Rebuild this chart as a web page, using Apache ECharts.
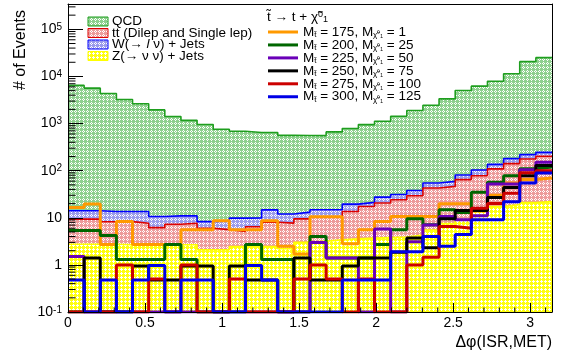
<!DOCTYPE html>
<html><head><meta charset="utf-8">
<script src="https://cdn.jsdelivr.net/npm/echarts@6/dist/echarts.min.js"></script>
<style>html,body{margin:0;padding:0;background:#fff}#c{width:569px;height:358px}</style>
</head><body><div id="c"></div>
<script>
// ---------------- data ----------------
const NBINS = 30;
const XMAX = Math.PI;
const xTickLabels = ['0', '0.5', '1', '1.5', '2', '2.5', '3'];

// background components (stacked, bottom -> top: Z, tt, W, QCD)
const zJets = [2.75, 2.75, 2.75, 2.67, 2.67, 2.67, 2.67, 2.67, 2.1, 2.1, 2.45, 2.45, 2.45, 2.2, 3.0, 3.2, 3.4, 3.6, 3.7, 3.8, 3.9, 4.3, 5.5, 7.5, 9.0, 13.6, 17.4, 19.0, 21.0, 22.0];
const ttbar = [6.6, 6.6, 5.5, 5.6, 5.0, 3.5, 4.6, 5.0, 3.9, 3.5, 2.7, 4.0, 5.6, 5.5, 6.5, 7.3, 6.9, 10.0, 13.7, 16.8, 20.3, 25.1, 37.3, 38.9, 55.4, 64.4, 91.6, 122, 156, 180];
const wJets = [4.7, 4.7, 5.3, 5.3, 5.9, 4.5, 3.7, 3.3, 2.3, 3.1, 4.7, 3.5, 6.7, 4.3, 3.7, 4.3, 4.5, 5.9, 3.8, 6.9, 7.1, 8.6, 11.9, 12.9, 16.6, 25, 27, 39, 42, 43];
const qcd = [6440, 5630, 4340, 3230, 2610, 1940, 1400, 1160, 945, 750, 675, 635, 630, 550, 545, 540, 650, 765, 930, 1090, 1400, 1850, 2400, 3290, 4960, 6120, 7800, 11200, 20400, 24800];

// signals
const sig175_1 = [16.6, 19.5, 2.7, 8.3, 2.7, 2.7, 2.7, 5.6, 5.6, 8.6, 5.6, 5.6, 8.6, 2.5, 1.7, 10.5, 10.5, 2.8, 5.6, 8.3, 10.7, 10.7, 10.7, 19.9, 19.9, 14, 30, 55, 65, 70];
const sig200_25 = [5.4, 5.4, 4.2, 1.3, 1.3, 1.3, 2.7, 1.3, 0, 0, 0, 2.7, 1.3, 1.3, 0, 4.0, 1.4, 1.4, 1.4, 2.7, 5.6, 9.5, 7.1, 14.8, 13, 35, 57, 78, 110, 120];
const sig225_50 = [1.5, 0, 0, 0, 0, 0, 0, 0, 0, 0, 0, 0, 0, 0, 0, 3.0, 1.4, 1.4, 0, 5.8, 0, 3.1, 7.0, 10.7, 9.1, 11, 52, 52, 105, 150];
const sig250_75 = [0, 1.4, 0, 0, 0.95, 0.48, 0.48, 0.95, 0.95, 0, 0.95, 0.48, 0.48, 0, 1.4, 0.48, 0.48, 0.95, 1.4, 1.4, 1.85, 3.7, 2.3, 9.5, 14.3, 14.3, 27, 44, 78, 128];
const sig275_100 = [0, 0, 0, 1.0, 0, 0.5, 0, 1.0, 0, 0, 0.5, 0, 0, 0, 0.5, 1.0, 0.5, 0, 0.5, 0, 0, 1.0, 1.46, 6.5, 6.0, 16, 20, 33, 90, 100];
const sig300_125 = [0.48, 0, 0.48, 0, 0.48, 0.97, 0, 0.48, 0.48, 0, 0, 0.97, 0.48, 0, 0, 0, 0, 0.48, 0.48, 0.48, 1.9, 1.9, 4.0, 2.5, 4.4, 9.1, 9.1, 22, 55, 89];

const stackNames = ['QCD', 'tt (Dilep and Single lep)', 'W(→ {i|l} ν) + Jets', 'Z(→ ν ν) + Jets'];
const sigStop = [175, 200, 225, 250, 275, 300];
const sigLsp = [1, 25, 50, 75, 100, 125];

// ---------------- styling ----------------
const YMIN = 0.1, YMAX = 3.45e5;
const FONT = '"Liberation Sans", Arial, Helvetica, sans-serif';

function pattern(color, kind) {
  const c = document.createElement('canvas'); c.width = 4; c.height = 4;
  const g = c.getContext('2d');
  g.fillStyle = color; g.fillRect(0, 0, 4, 4);
  g.fillStyle = '#ffffff';
  const pts = kind === 'cross' ? [[1,0],[0,1],[1,1],[2,1],[1,2]] : [[3,0],[3,2],[0,3],[2,3]];
  pts.forEach(([x, y]) => g.fillRect(x, y, 1, 1));
  return { image: c, repeat: 'repeat' };
}
const fillQCD = pattern('#8ed08e', 'dots');
const fillTT = pattern('#ed9b9b', 'dots');
const fillW = pattern('#9b9beb', 'dots');
const fillZ = pattern('#ffff10', 'cross');
const lineQCD = '#1e9e1e', lineTT = '#dd0000', lineW = '#0000ff', lineZ = '#ffff00';
const sigColors = ['#ff9900', '#006600', '#6a00b8', '#000000', '#cc0000', '#0000e6'];

// ---------------- build ----------------
const edges = [];
for (let i = 0; i <= NBINS; i++) edges.push(i * XMAX / NBINS);
function stepData(vals) {
  return edges.map((e, i) => [e, Math.max(vals[Math.min(i, NBINS - 1)], YMIN)]);
}
const cZ = zJets.slice();
const cTT = cZ.map((v, i) => v + ttbar[i]);
const cW = cTT.map((v, i) => v + wJets[i]);
const cQ = cW.map((v, i) => v + qcd[i]);

function areaSeries(vals, fill, line, z) {
  return { type: 'line', data: stepData(vals), step: 'end', symbol: 'none', silent: true, z: z,
    lineStyle: { color: line, width: 1.6 }, areaStyle: { color: fill, opacity: 1, origin: 'start' } };
}
const series = [
  areaSeries(cQ, fillQCD, lineQCD, 2),
  areaSeries(cW, fillW, lineW, 3),
  areaSeries(cTT, fillTT, lineTT, 4),
  areaSeries(cZ, fillZ, lineZ, 5),
];
[sig175_1, sig200_25, sig225_50, sig250_75, sig275_100, sig300_125].forEach((s, k) => {
  series.push({ type: 'line', data: stepData(s), step: 'end', symbol: 'none', silent: true, z: 6 + k,
    lineStyle: { color: sigColors[k], width: 3 } });
});

// minor ticks (log y: 2..9 x 10^k ; x: every 0.1)
const yMinor = [];
for (let k = -1; k <= 5; k++) for (let m = 2; m <= 9; m++) { const v = m * Math.pow(10, k); if (v < YMAX) yMinor.push([0, v]); }
const xMinor = [];
for (let i = 1; i <= 31; i++) { if (i % 5 !== 0) xMinor.push([i / 10, YMIN]); }
series.push({ type: 'custom', data: yMinor, z: 20, silent: true,
  renderItem: (p, api) => { const c = api.coord([0, api.value(1)]);
    return { type: 'line', shape: { x1: c[0], y1: c[1], x2: c[0] + 7.5, y2: c[1] }, style: { stroke: '#000', lineWidth: 1 } }; } });
series.push({ type: 'custom', data: xMinor, z: 20, silent: true,
  renderItem: (p, api) => { const c = api.coord([api.value(0), YMIN]);
    return { type: 'line', shape: { x1: c[0], y1: c[1], x2: c[0], y2: c[1] - 4.5 }, style: { stroke: '#000', lineWidth: 1 } }; } });

// legends
const graphic = [];
const boxFills = [fillQCD, fillTT, fillW, fillZ];
const boxLines = [lineQCD, lineTT, lineW, lineZ];
stackNames.forEach((n, i) => {
  const y = 21.5 + 11.5 * i;
  graphic.push({ type: 'rect', shape: { x: 88, y: y - 4.5, width: 20, height: 9 }, style: { fill: boxFills[i], stroke: boxLines[i], lineWidth: 1 }, z: 50 });
  graphic.push({ type: 'text', x: 112, y: y, z: 50, style: { text: n, font: '13.5px ' + FONT, fill: '#000', textVerticalAlign: 'middle',
    rich: { i: { fontStyle: 'italic', fontSize: 13.5, fontFamily: FONT } } } });
});
graphic.push({ type: 'text', x: 267, y: 17, z: 50, style: {
  text: '{n|t\u0303 \u2192 t + \u03C7\u0303}{sup|0}{sub|1}', textVerticalAlign: 'middle', fill: '#000',
  rich: { n: { fontSize: 13.5, fontFamily: FONT }, sup: { fontSize: 9, fontFamily: FONT, verticalAlign: 'top', lineHeight: 10, padding: [0, 0, 8, 0] },
    sub: { fontSize: 9, fontFamily: FONT, verticalAlign: 'bottom', lineHeight: 10, padding: [8, 0, 0, 0] } } } });
sigStop.forEach((m, i) => {
  const y = 32 + 12.95 * i;
  graphic.push({ type: 'line', shape: { x1: 268, y1: y, x2: 298, y2: y }, style: { stroke: sigColors[i], lineWidth: 3 }, z: 50 });
  graphic.push({ type: 'text', x: 303, y: y, z: 50, style: {
    text: '{n|M}{s|t\u0303}{n| = ' + m + ', M}{s|\u03C7\u0303\u2070\u2081}{n| = ' + sigLsp[i] + '}', textVerticalAlign: 'middle', fill: '#000',
    rich: { n: { fontSize: 13.5, fontFamily: FONT }, s: { fontSize: 8, fontFamily: FONT, verticalAlign: 'bottom', lineHeight: 8, padding: [9, 0, 0, 0] } } } });
});
graphic.push({ type: 'text', x: 20.5, y: 50, rotation: Math.PI / 2, z: 50, style: { text: '# of Events', font: '16px ' + FONT, fill: '#000', textAlign: 'center', textVerticalAlign: 'middle' } });
graphic.push({ type: 'text', x: 552, y: 343, z: 50, style: { text: '\u0394\u03C6(ISR,MET)', font: '16px ' + FONT, fill: '#000', textAlign: 'right', textVerticalAlign: 'middle' } });

const chart = echarts.init(document.getElementById('c'), null, { renderer: 'canvas' });
chart.setOption({
  animation: false,
  backgroundColor: '#fff',
  grid: { left: 68, right: 17, top: 4, bottom: 46, show: false },
  xAxis: [{
    type: 'value', min: 0, max: XMAX, interval: 0.5, z: 30,
    axisLine: { show: true, lineStyle: { color: '#000', width: 1 } },
    axisTick: { show: true, inside: true, length: 9, lineStyle: { color: '#000' } },
    splitLine: { show: false },
    axisLabel: { showMaxLabel: false, color: '#000', fontSize: 14, fontFamily: FONT, margin: 4,
      formatter: v => { const k = Math.round(v / 0.5); return (Math.abs(v - k * 0.5) < 1e-9 && k < xTickLabels.length) ? xTickLabels[k] : ''; } }
  }, {
    type: 'value', position: 'top', min: 0, max: XMAX, z: 30,
    axisLine: { show: true, onZero: false, lineStyle: { color: '#000', width: 1 } },
    axisTick: { show: false }, axisLabel: { show: false }, splitLine: { show: false }
  }],
  yAxis: [{
    type: 'log', logBase: 10, min: YMIN, max: YMAX, z: 30,
    axisLine: { show: true, lineStyle: { color: '#000', width: 1 } },
    axisTick: { show: true, inside: true, length: 15, lineStyle: { color: '#000' } },
    splitLine: { show: false },
    axisLabel: { showMaxLabel: false, color: '#000', fontSize: 14, fontFamily: FONT, margin: 6,
      formatter: v => { const k = Math.round(Math.log10(v)); if (k === 0) return '1'; if (k === 1) return '10'; return '10{sup|' + k + '}'; },
      rich: { sup: { fontSize: 10, fontFamily: FONT, color: '#000', verticalAlign: 'top', lineHeight: 10, padding: [0, 0, 9, 0] } } }
  }, {
    type: 'log', logBase: 10, min: YMIN, max: YMAX, position: 'right', z: 30,
    axisLine: { show: true, onZero: false, lineStyle: { color: '#000', width: 1 } },
    axisTick: { show: false }, axisLabel: { show: false }, splitLine: { show: false }
  }],
  series: series,
  graphic: graphic
});
</script></body></html>
